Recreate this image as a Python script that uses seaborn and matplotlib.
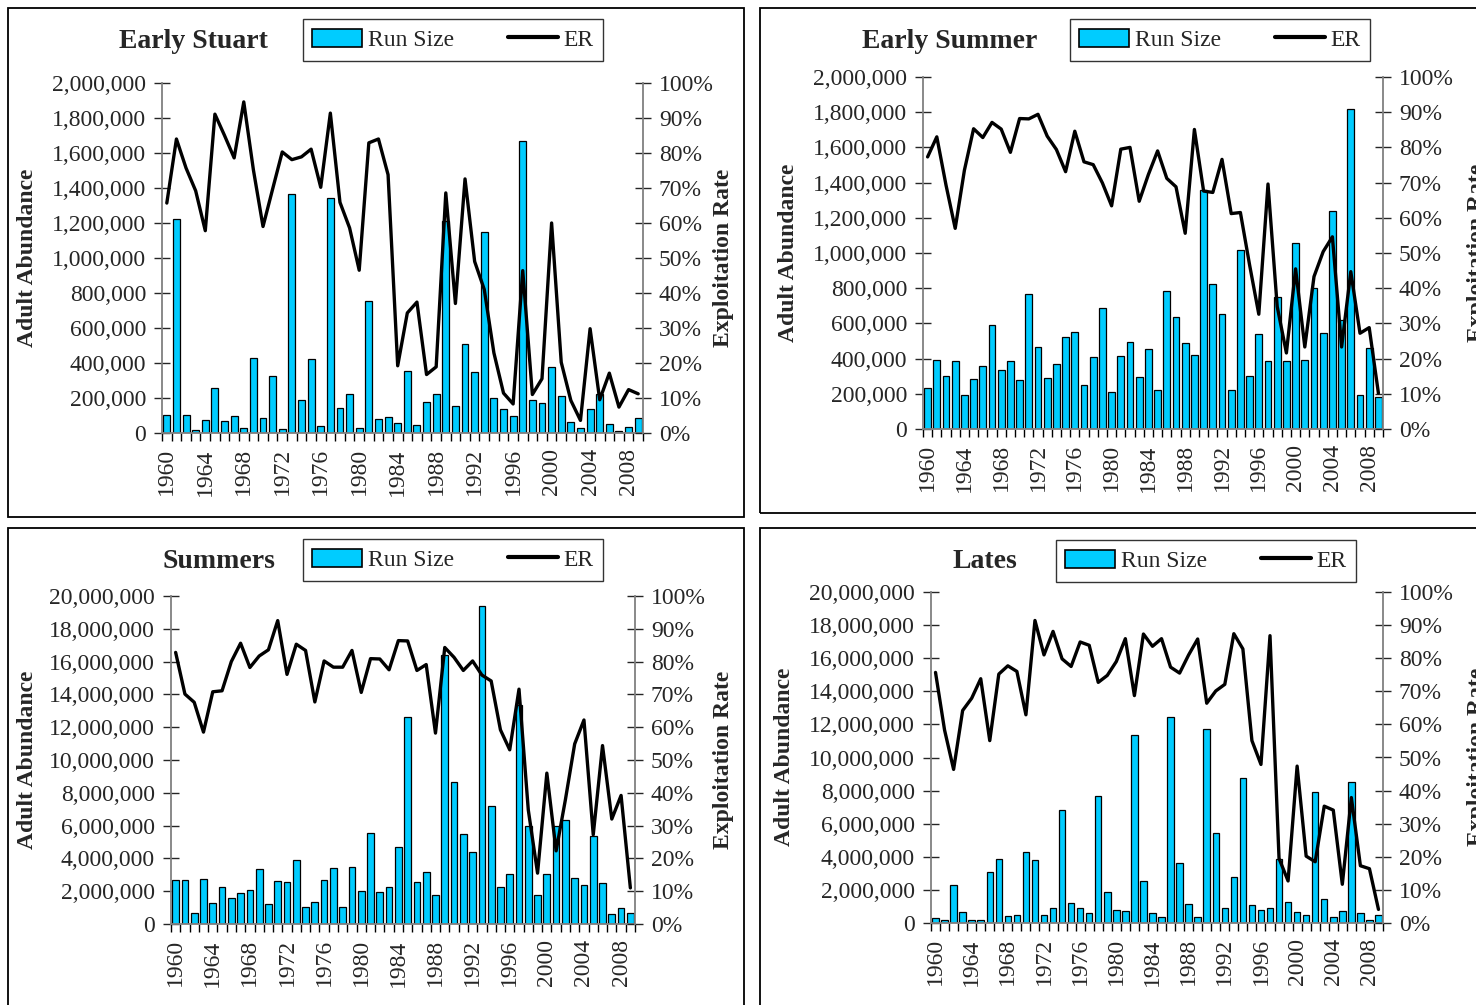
import numpy as np
import matplotlib.pyplot as plt
import seaborn as sns
from matplotlib.patches import Patch, Rectangle
from matplotlib.lines import Line2D
from matplotlib.ticker import FuncFormatter, FixedLocator, MultipleLocator

years = [str(y) for y in range(1960, 2010)]
year_labels = [str(y) for y in range(1960, 2010, 4)]

# Early Stuart run size (thousands) and exploitation rate (%)
stuart_run = [100, 1223, 105, 15, 74, 255, 69, 97, 27, 430,
              84, 328, 23, 1364, 187, 425, 38, 1341, 145, 223,
              29, 754, 80, 90, 55, 356, 44, 179, 221, 1210,
              154, 510, 347, 1150, 202, 135, 95, 1670, 189, 171,
              377, 213, 61, 27, 135, 221, 51, 11, 32, 84]
stuart_er = [65.7, 84.0, 75.7, 69.2, 57.8, 91.1, 85.0, 78.6, 94.6, 75.2,
             59.0, 69.7, 80.3, 78.1, 78.9, 81.1, 70.2, 91.4, 65.9, 58.6,
             46.5, 82.9, 84.0, 73.8, 19.2, 34.3, 37.4, 16.7, 18.9, 68.6,
             37.0, 72.6, 49.0, 41.0, 22.9, 11.4, 8.3, 46.4, 11.0, 15.5,
             60.0, 20.2, 9.3, 3.6, 29.8, 9.5, 17.1, 7.4, 12.4, 11.2]

# Early Summer run size (thousands) and ER (%)
esum_run = [232, 393, 299, 388, 195, 282, 359, 590, 335, 386,
            276, 766, 467, 291, 369, 520, 550, 248, 408, 690,
            210, 414, 497, 293, 454, 219, 785, 639, 490, 420,
            1359, 824, 652, 223, 1017, 302, 539, 388, 752, 388,
            1055, 393, 801, 548, 1238, 618, 1820, 195, 463, 181]
esum_er = [77.3, 83.0, 69.3, 57.0, 73.5, 85.3, 82.8, 87.1, 85.2, 78.6,
           88.2, 88.1, 89.4, 83.2, 79.4, 73.1, 84.6, 75.9, 75.1, 69.9,
           63.4, 79.5, 80.0, 64.7, 72.3, 79.0, 71.2, 68.8, 55.6, 85.1,
           67.6, 67.2, 76.6, 61.2, 61.5, 46.6, 32.6, 69.6, 34.8, 21.6,
           45.5, 23.3, 43.3, 50.4, 54.6, 23.3, 44.7, 27.2, 28.8, 10.2]

# Summers run size (millions) and ER (%)
summers_run = [2.70, 2.66, 0.69, 2.74, 1.26, 2.25, 1.58, 1.87, 2.05, 3.33,
               1.22, 2.60, 2.54, 3.88, 1.02, 1.36, 2.70, 3.41, 1.02, 3.49,
               2.01, 5.56, 1.97, 2.23, 4.71, 12.65, 2.54, 3.15, 1.79, 16.4,
               8.65, 5.50, 4.39, 19.39, 7.21, 2.25, 3.03, 13.36, 5.99, 1.77,
               3.03, 5.99, 6.34, 2.78, 2.36, 5.36, 2.50, 0.63, 1.00, 0.65]
summers_er = [82.8, 70.1, 67.6, 58.5, 70.8, 71.1, 80.0, 85.6, 78.2, 81.7,
              83.6, 92.5, 76.1, 85.3, 83.4, 67.7, 80.2, 78.3, 78.3, 83.4,
              70.6, 80.9, 80.8, 77.5, 86.4, 86.3, 77.3, 79.1, 58.2, 84.3,
              81.3, 77.3, 80.2, 75.9, 74.1, 59.2, 53.1, 71.6, 34.8, 15.5,
              46.0, 22.3, 37.9, 54.9, 62.2, 27.2, 54.4, 32.0, 39.2, 11.0]

# Lates run size (millions) and ER (%)
lates_run = [0.30, 0.18, 2.28, 0.69, 0.16, 0.16, 3.09, 3.85, 0.40, 0.48,
             4.28, 3.79, 0.48, 0.91, 6.80, 1.21, 0.89, 0.59, 7.69, 1.88,
             0.79, 0.75, 11.36, 2.52, 0.61, 0.36, 12.43, 3.61, 1.17, 0.36,
             11.73, 5.45, 0.89, 2.78, 8.78, 1.11, 0.79, 0.89, 3.87, 1.27,
             0.65, 0.50, 7.89, 1.43, 0.36, 0.75, 8.54, 0.63, 0.18, 0.48]
lates_er = [75.7, 58.3, 46.4, 64.2, 67.9, 73.8, 55.1, 75.2, 77.7, 76.0,
            62.9, 91.4, 81.0, 88.1, 79.8, 77.5, 84.9, 83.9, 72.7, 74.8,
            79.0, 85.9, 68.7, 87.3, 83.6, 85.9, 77.3, 75.5, 81.0, 85.8,
            66.4, 70.1, 72.1, 87.4, 82.8, 55.1, 47.9, 86.8, 19.5, 12.7,
            47.4, 20.2, 18.5, 35.3, 34.1, 11.7, 37.9, 17.3, 16.4, 4.1]

sns.set_style('white')
plt.rcParams['font.family'] = ['Liberation Serif', 'DejaVu Serif']

CYAN = '#00CCFF'
W, H = 1476, 1005
fig = plt.figure(figsize=(W / 100, H / 100), dpi=100)


def fx(px):
    return px / W


def fy(py):
    return 1 - py / H


def panel(box, area, runs, er, ymax, title, title_xy, legend_xy, lab_y, lab_x, er_x):
    # outer frame of the chart
    x0, y0, x1, y1 = box
    fig.patches.append(Rectangle((fx(x0), fy(y1)), fx(x1 - x0), (y1 - y0) / H,
                                 transform=fig.transFigure, fill=False,
                                 edgecolor='black', linewidth=1.3))
    l, t, r, b = area
    ax = fig.add_axes([fx(l), fy(b), fx(r - l), (b - t) / H])
    sns.barplot(x=years, y=runs, color=CYAN, saturation=1, edgecolor='black',
                linewidth=0.9, width=0.72, ax=ax)
    ax2 = ax.twinx()
    sns.lineplot(x=np.arange(len(years)), y=np.array(er) / 100, color='black',
                 linewidth=2.4, ax=ax2)

    ax.set_xlim(-0.5, len(years) - 0.5)
    ax.set_ylim(0, ymax)
    ax2.set_ylim(0, 1)
    ax.yaxis.set_major_locator(MultipleLocator(ymax / 10))
    ax2.yaxis.set_major_locator(MultipleLocator(0.1))
    ax.yaxis.set_major_formatter(FuncFormatter(lambda v, p: f'{v:,.0f}'))
    ax2.yaxis.set_major_formatter(FuncFormatter(lambda v, p: f'{v:.0%}'))

    ax.xaxis.set_major_locator(FixedLocator([years.index(y) for y in year_labels]))
    ax.set_xticklabels(year_labels, rotation=90)
    ax.xaxis.set_minor_locator(FixedLocator(np.arange(-0.5, len(years), 1)))
    ax.tick_params(axis='x', which='major', length=0, pad=11, labelsize=17)
    ax.tick_params(axis='x', which='minor', length=6, width=1, color='black', direction='out', bottom=True)
    ax.tick_params(axis='y', length=11, width=1, direction='inout', pad=6, labelsize=17, left=True)
    ax2.tick_params(axis='y', length=11, width=1, direction='inout', pad=6, labelsize=17, right=True)

    for a in (ax, ax2):
        a.set_xlabel('')
        a.set_ylabel('')
        a.spines['top'].set_visible(False)
        for s in ('left', 'right', 'bottom'):
            a.spines[s].set_color('#808080')
            a.spines[s].set_linewidth(1.3)
    ax.spines['right'].set_visible(False)
    ax2.spines['left'].set_visible(False)
    ax2.spines['bottom'].set_visible(False)

    fig.text(fx(title_xy[0]), fy(title_xy[1]), title, ha='center', va='center',
             fontsize=20, fontweight='bold')
    fig.text(fx(lab_x), fy(lab_y), 'Adult Abundance', rotation=90, ha='center',
             va='center', fontsize=17, fontweight='bold')
    fig.text(fx(er_x), fy(lab_y), 'Exploitation Rate', rotation=90, ha='center',
             va='center', fontsize=17, fontweight='bold')

    handles = [Patch(facecolor=CYAN, edgecolor='black', linewidth=1.2),
               Line2D([0], [0], color='black', linewidth=3)]
    leg = fig.legend(handles, ['Run Size', 'ER'], loc='center', ncol=2,
                     bbox_to_anchor=(fx(legend_xy[0]), fy(legend_xy[1])),
                     fontsize=17, frameon=True, fancybox=False, edgecolor='black',
                     handlelength=2.1, handleheight=0.8, handletextpad=0.25,
                     columnspacing=2.3, borderpad=0.4, borderaxespad=0)
    leg.get_frame().set_linewidth(1.0)


panel((8, 8, 744, 517), (162, 83, 643, 433), np.array(stuart_run) * 1000, stuart_er,
      2000000, 'Early Stuart', (193, 42), (453, 40), 258, 28, 724)
panel((760, 8, 1480, 513), (923, 77, 1383, 429), np.array(esum_run) * 1000, esum_er,
      2000000, 'Early Summer', (950, 42), (1220, 40), 253, 788, 1477)
panel((8, 528, 744, 1010), (171, 596, 635, 924), np.array(summers_run) * 1e6, summers_er,
      20000000, 'Summers', (219, 562), (453, 560), 760, 28, 724)
panel((760, 528, 1480, 1010), (931, 592, 1383, 923), np.array(lates_run) * 1e6, lates_er,
      20000000, 'Lates', (985, 562), (1206, 561), 757, 784, 1477)

fig.savefig('out.png', dpi=100)
